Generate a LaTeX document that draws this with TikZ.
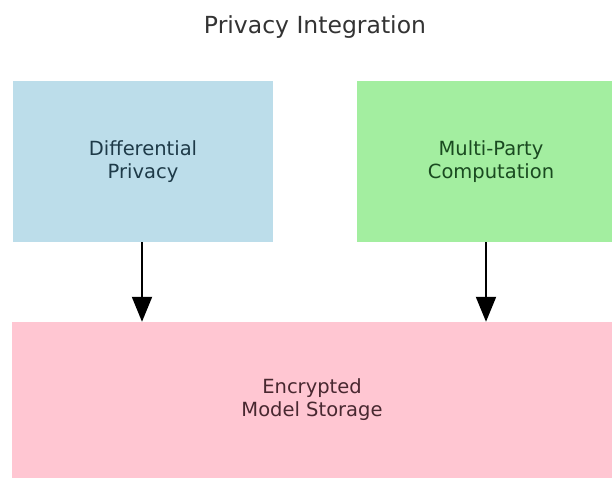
\documentclass[tikz,border=0pt]{standalone}
\usepackage{fontspec}
\setmainfont{DejaVu Sans}
\usetikzlibrary{arrows.meta}
\definecolor{boxblue}{HTML}{BCDDEA}
\definecolor{boxgreen}{HTML}{A3EEA0}
\definecolor{boxpink}{HTML}{FFC6D2}
\definecolor{txtblue}{HTML}{1E3A48}
\definecolor{txtgreen}{HTML}{1A4A20}
\definecolor{txtpink}{HTML}{482830}
\begin{document}
\begin{tikzpicture}[x=1pt,y=1pt,
  box/.style={rectangle, draw=none, inner sep=0pt, align=center,
    font=\fontsize{19.5}{23}\selectfont},
  arr/.style={line width=2pt, -{Triangle[length=25pt,width=20pt]}}]
\useasboundingbox (0,0) rectangle (612,479);
\fill[white] (0,0) rectangle (612,479);
\node[font=\fontsize{23.5}{28}\selectfont, text=black!80] (title) at (315,452) {Privacy Integration};
\node[box, fill=boxblue, text=txtblue, minimum width=260pt, minimum height=161pt] (dp) at (143,317.5) {Differential\\Privacy};
\node[box, fill=boxgreen, text=txtgreen, minimum width=268pt, minimum height=161pt] (mpc) at (491,317.5) {Multi-Party\\Computation};
\node[box, fill=boxpink, text=txtpink, minimum width=600pt, minimum height=156pt] (enc) at (312,79) {Encrypted\\Model Storage};
\draw[arr] ([xshift=-1pt]dp.south) -- ([xshift=-1pt]dp.south |- enc.north);
\draw[arr] ([xshift=-5pt]mpc.south) -- ([xshift=-5pt]mpc.south |- enc.north);
\end{tikzpicture}
\end{document}
